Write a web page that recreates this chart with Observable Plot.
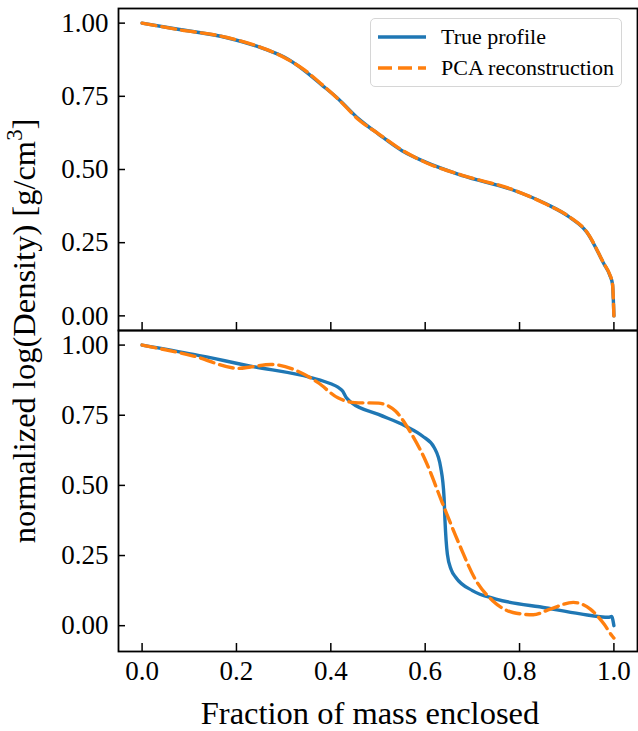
<!DOCTYPE html>
<html>
<head>
<meta charset="utf-8">
<script src="https://cdn.jsdelivr.net/npm/d3@7"></script>
<script src="https://cdn.jsdelivr.net/npm/@observablehq/plot@0.6"></script>
<style>
  body { margin: 0; background: #fff; }
  #fig { position: relative; width: 638px; height: 731px; font-family: "Liberation Serif", "DejaVu Serif", serif; }
  #fig > svg { position: absolute; left: 0; }
  .lbl { position: absolute; white-space: nowrap; line-height: 1; color: #000; }
</style>
</head>
<body>
<div id="fig"></div>
<script>
// ---- data ----
const xTicks = [0, 0.2, 0.4, 0.6, 0.8, 1.0];
const yTicks = [0, 0.25, 0.5, 0.75, 1.0];

// Top panel: true profile
const topTrueX = [0, 0.073, 0.18, 0.259, 0.301, 0.344, 0.38, 0.416, 0.459, 0.501, 0.551, 0.601, 0.679, 0.786, 0.857, 0.907, 0.943, 0.979, 0.991, 0.997, 1.0];
const topTrueY = [1.0, 0.980, 0.950, 0.912, 0.884, 0.838, 0.790, 0.741, 0.673, 0.621, 0.564, 0.525, 0.479, 0.430, 0.382, 0.336, 0.285, 0.177, 0.140, 0.108, 0.0];
// Top panel: PCA reconstruction
const topPcaX = [0, 0.073, 0.18, 0.259, 0.301, 0.344, 0.38, 0.416, 0.459, 0.501, 0.551, 0.601, 0.679, 0.786, 0.857, 0.907, 0.943, 0.979, 0.991, 0.997, 1.0];
const topPcaY = [1.0, 0.979, 0.951, 0.913, 0.883, 0.840, 0.792, 0.740, 0.670, 0.622, 0.566, 0.524, 0.480, 0.431, 0.381, 0.337, 0.286, 0.178, 0.142, 0.110, 0.0];

// Bottom panel: true profile
const botTrueX = [0, 0.109, 0.23, 0.358, 0.40, 0.415, 0.425, 0.433, 0.444, 0.501, 0.558, 0.594, 0.619, 0.633, 0.640, 0.642, 0.647, 0.655, 0.665, 0.70, 0.75, 0.857, 0.929, 0.990, 0.995, 1.0];
const botTrueY = [1.0, 0.967, 0.925, 0.884, 0.862, 0.850, 0.836, 0.812, 0.795, 0.753, 0.712, 0.676, 0.635, 0.563, 0.457, 0.374, 0.255, 0.200, 0.172, 0.125, 0.095, 0.063, 0.042, 0.030, 0.033, 0.0];
// Bottom panel: PCA reconstruction
const botPcaX = [0, 0.109, 0.205, 0.23, 0.273, 0.33, 0.373, 0.415, 0.451, 0.501, 0.537, 0.565, 0.601, 0.636, 0.672, 0.708, 0.743, 0.786, 0.829, 0.865, 0.914, 0.95, 0.979, 0.996, 1.0];
const botPcaY = [1.0, 0.961, 0.917, 0.922, 0.931, 0.907, 0.866, 0.812, 0.795, 0.793, 0.765, 0.700, 0.587, 0.439, 0.291, 0.160, 0.089, 0.047, 0.039, 0.059, 0.083, 0.059, 0.006, -0.036, -0.044];

const legendLabels = ["True profile", "PCA reconstruction"];
const colors = ["#1f77b4", "#ff7f0e"];

// ---- helpers ----
const zip = (xs, ys) => xs.map((x, i) => ({x, y: ys[i]}));
const W = 638, ML = 118, MR = 1;
const plotW = W - ML - MR;
const fontFam = "Liberation Serif";
const DASH = "14,6";
const LW = 3.4;

function panel({trueData, pcaData, yDomain, height, marginTop, marginBottom, showX}) {
  const plotH = height - marginTop - marginBottom;
  const marks = [
    Plot.line(trueData, {x: "x", y: "y", stroke: colors[0], strokeWidth: LW, curve: "monotone-x"}),
    Plot.line(pcaData, {x: "x", y: "y", stroke: colors[1], strokeWidth: LW, strokeDasharray: DASH, curve: "monotone-x"}),
    Plot.axisY(yTicks, {tickSize: 0, tickPadding: 10, tickFormat: d3.format(".2f"), fontSize: 27, fontFamily: fontFam, label: null}),
    Plot.tickY(yTicks, {y: d => d, insetRight: plotW - 7, stroke: "black", strokeWidth: 1.5}),
    Plot.tickX(xTicks, {x: d => d, insetTop: plotH - 8, stroke: "black", strokeWidth: 1.5}),
    Plot.frame({stroke: "black", strokeWidth: 1.8})
  ];
  if (showX) marks.push(Plot.axisX(xTicks, {tickSize: 0, tickPadding: 9, tickFormat: d3.format(".1f"), fontSize: 27, fontFamily: fontFam, label: null}));
  return Plot.plot({
    width: W, height, marginLeft: ML, marginRight: MR, marginTop, marginBottom,
    x: {domain: [-0.05, 1.05], axis: null},
    y: {domain: yDomain, axis: null},
    style: {fontFamily: fontFam, fontSize: "27px", background: "transparent", color: "black", overflow: "visible"},
    marks
  });
}

const fig = document.getElementById("fig");

const topPanel = panel({
  trueData: zip(topTrueX, topTrueY), pcaData: zip(topPcaX, topPcaY),
  yDomain: [-0.05, 1.05], height: 331, marginTop: 8, marginBottom: 1, showX: false
});
topPanel.style.top = "0px";
fig.appendChild(topPanel);

const botPanel = panel({
  trueData: zip(botTrueX, botTrueY), pcaData: zip(botPcaX, botPcaY),
  yDomain: [-0.092, 1.052], height: 401, marginTop: 0, marginBottom: 80, showX: true
});
botPanel.style.top = "330px";
fig.appendChild(botPanel);

// legend
const leg = document.createElement("div");
leg.style.cssText = "position:absolute;left:370px;top:18px;width:250px;height:67px;border:1.5px solid #d6d6d6;border-radius:5px;background:rgba(255,255,255,0.8);font-size:22px;";
legendLabels.forEach((t, i) => {
  const row = document.createElement("div");
  row.style.cssText = `position:absolute;left:6px;top:${5 + i * 31}px;height:26px;display:flex;align-items:center;white-space:nowrap;`;
  row.innerHTML = `<svg width="50" height="10"><line x1="1" x2="49" y1="5" y2="5" stroke="${colors[i]}" stroke-width="${LW}" ${i === 1 ? `stroke-dasharray="${DASH}"` : ""}/></svg><span style="margin-left:14px;line-height:1">${t}</span>`;
  leg.appendChild(row);
});
fig.appendChild(leg);

// axis titles
const xl = document.createElement("div");
xl.className = "lbl";
xl.style.cssText += "left:370px;top:697px;transform:translateX(-50%);font-size:32.5px;";
xl.textContent = "Fraction of mass enclosed";
fig.appendChild(xl);

const yl = document.createElement("div");
yl.className = "lbl";
yl.style.cssText += "left:24px;top:331px;transform:translate(-50%,-50%) rotate(-90deg);font-size:32.5px;";
yl.innerHTML = "normalized log(Density) [g/cm<sup style='font-size:0.7em;vertical-align:0.55em;line-height:0'>3</sup>]";
fig.appendChild(yl);
</script>
</body>
</html>
